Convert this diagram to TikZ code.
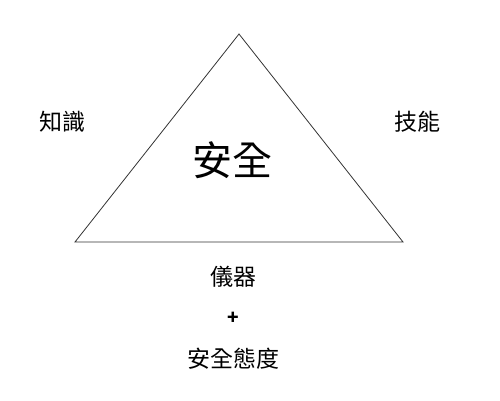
\documentclass[tikz,border=0pt]{standalone}
\usepackage{fontspec}
\usepackage{tikz}
\usetikzlibrary{positioning}
\newfontfamily\cjk{Noto Sans CJK TC}
\tikzset{tri-line/.style={line width=0.8pt, draw=black!80}}
\tikzset{side-text/.style={inner sep=0, font=\cjk\fontsize{23}{23}\selectfont}}
\tikzset{big-text/.style={inner sep=0, font=\cjk\fontsize{40}{40}\selectfont}}
\tikzset{plus-text/.style={inner sep=0, font=\cjk\bfseries\fontsize{19}{19}\selectfont}}

\begin{document}
\begin{tikzpicture}[x=1pt, y=-1pt]
            \useasboundingbox (0,0) rectangle (500,400);
            \coordinate (apex) at (239,34);
            \coordinate (base-left) at (75,242);
            \coordinate (base-right) at (403,242);
            \draw[tri-line] (apex) -- (base-right) -- (base-left) -- cycle;

            \node[big-text] (safety) at (232,160) {安全};
            \node[side-text] (knowledge) at (62,122) {知識};
            \node[side-text] (skill) at (417,122) {技能};

            \node[side-text] (equipment) at (233,277) {儀器};
            \node[plus-text, below=41pt of equipment.center, anchor=center] (plus) {+};
            \node[side-text, below=41pt of plus.center, anchor=center] (attitude) {安全態度};
        \end{tikzpicture}
\end{document}
